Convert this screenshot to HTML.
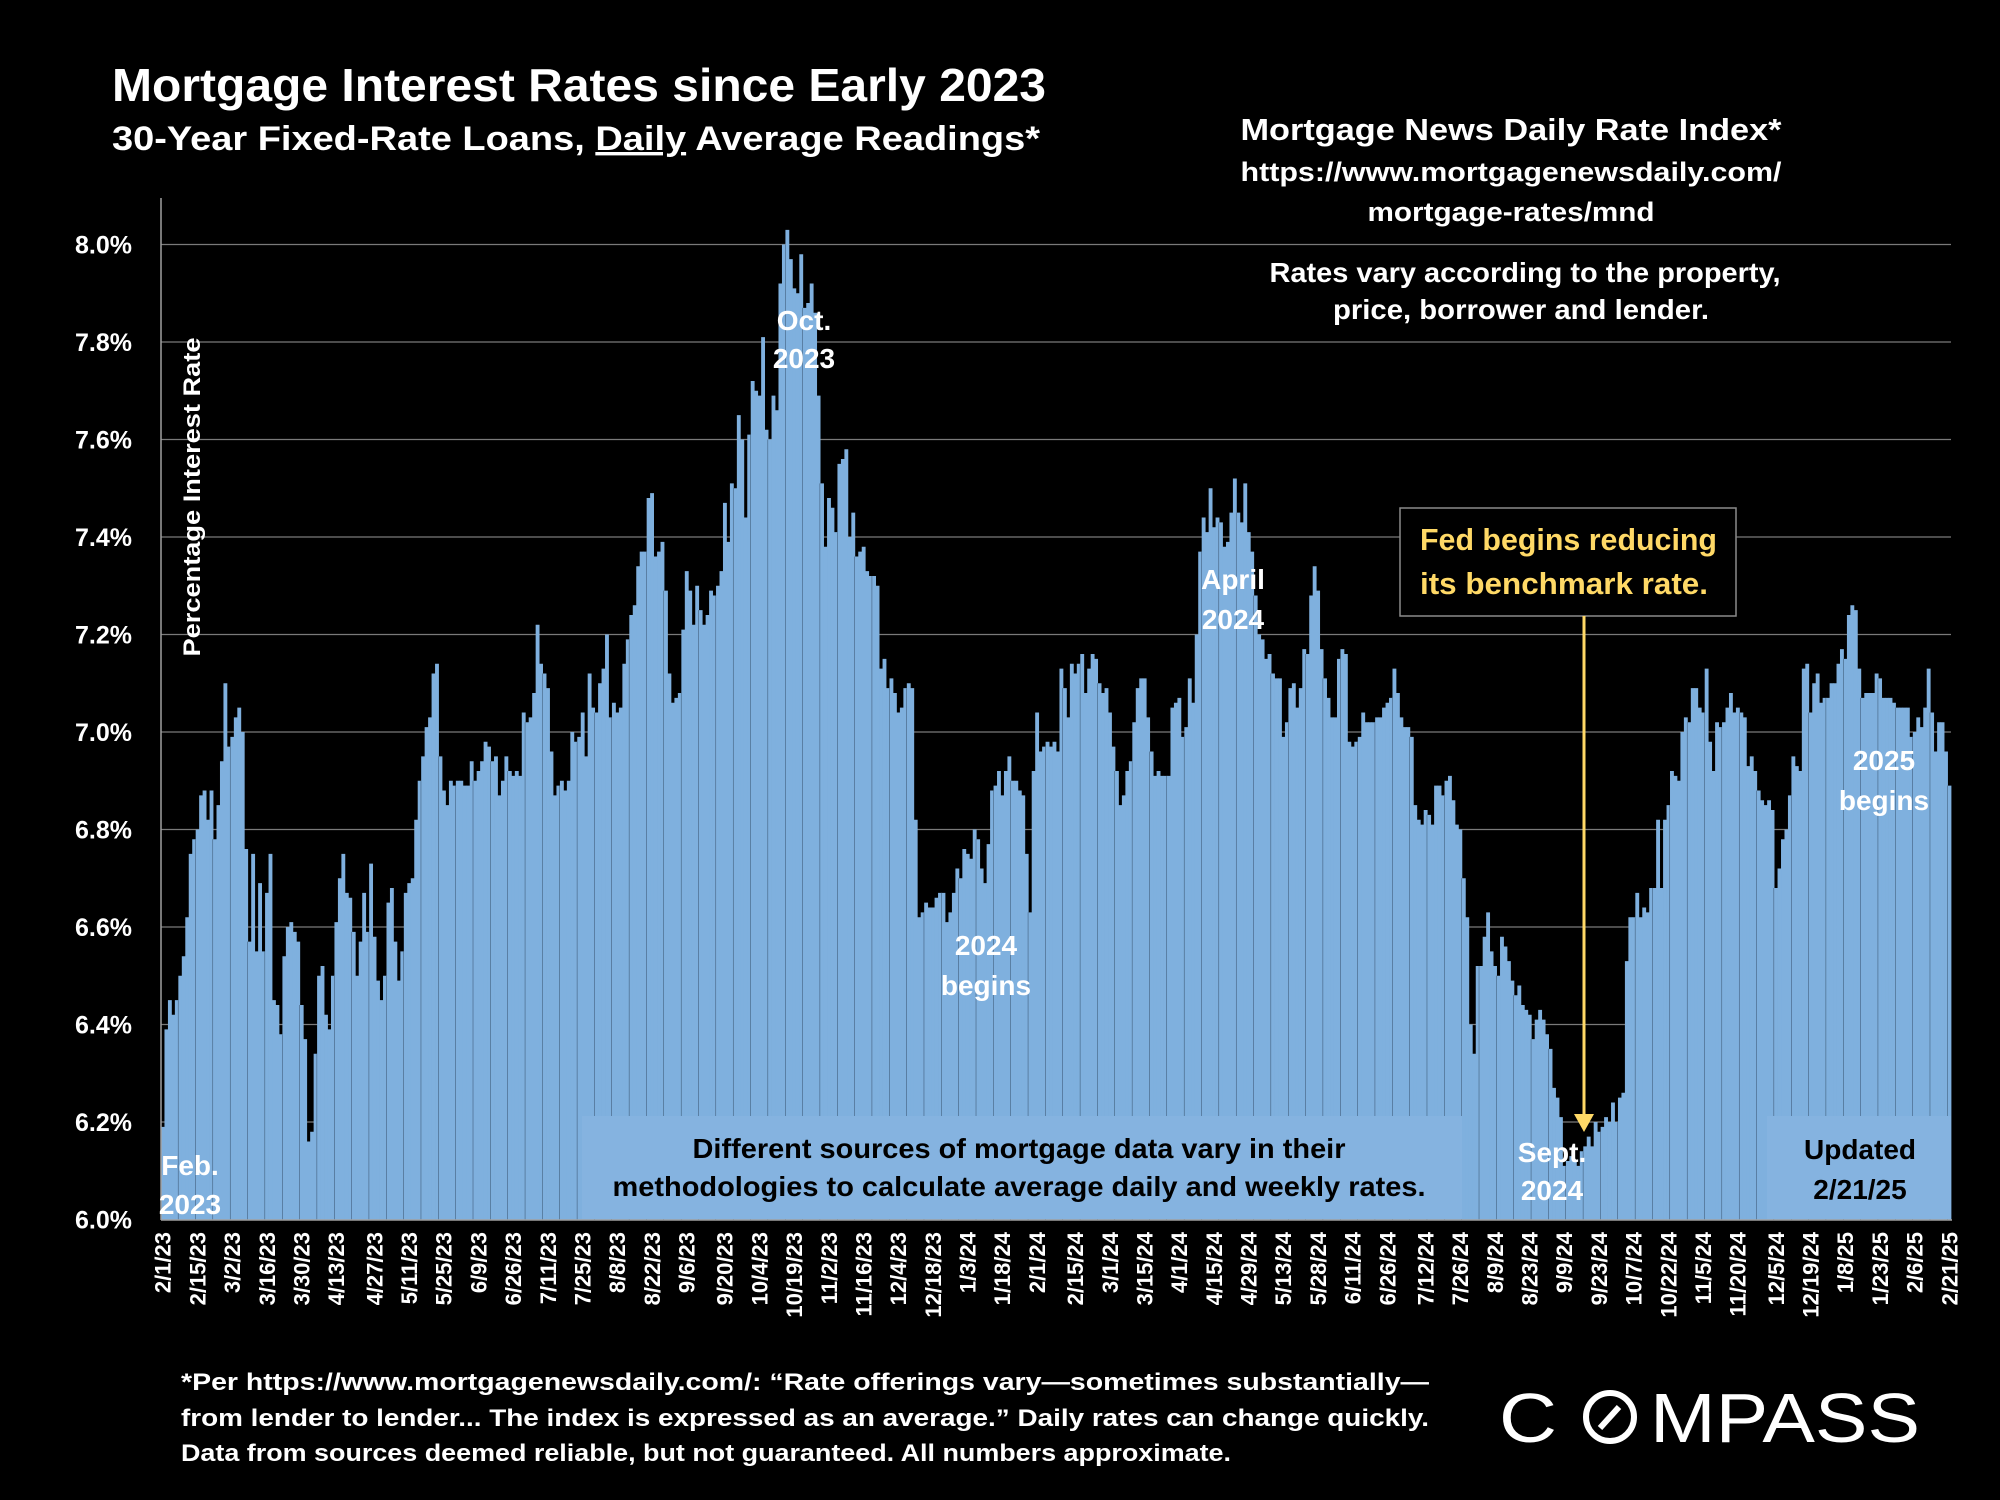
<!DOCTYPE html>
<html><head><meta charset="utf-8"><style>
html,body{margin:0;padding:0;background:#000;}
svg{display:block;}
text{font-family:"Liberation Sans",sans-serif;font-weight:bold;}
</style></head><body>
<svg id="chart" width="2000" height="1500" viewBox="0 0 2000 1500" xmlns="http://www.w3.org/2000/svg">
<rect x="0" y="0" width="2000" height="1500" fill="#000"/>
<g id="grid"></g>
<g id="bars"></g>
<g id="yticks"></g>
<g id="xticks"></g>
<line x1="161" y1="198" x2="161" y2="1220" stroke="#a0a0a0" stroke-width="1.5"/>
<line x1="161" y1="1220" x2="1952" y2="1220" stroke="#a0a0a0" stroke-width="1.5"/>

<text x="112" y="101" font-size="46" fill="#fff" textLength="934" lengthAdjust="spacingAndGlyphs">Mortgage Interest Rates since Early 2023</text>
<text x="112" y="150" font-size="34" fill="#fff" textLength="928" lengthAdjust="spacingAndGlyphs">30-Year Fixed-Rate Loans, <tspan text-decoration="underline">Daily</tspan> Average Readings*</text>

<g fill="#fff" text-anchor="middle">
<text x="1511" y="140" font-size="31" textLength="541" lengthAdjust="spacingAndGlyphs">Mortgage News Daily Rate Index*</text>
<text x="1511" y="181" font-size="27" textLength="541" lengthAdjust="spacingAndGlyphs">https://www.mortgagenewsdaily.com/</text>
<text x="1511" y="221" font-size="27" textLength="287" lengthAdjust="spacingAndGlyphs">mortgage-rates/mnd</text>
<text x="1525" y="282" font-size="28" textLength="511" lengthAdjust="spacingAndGlyphs">Rates vary according to the property,</text>
<text x="1521" y="319" font-size="28" textLength="376" lengthAdjust="spacingAndGlyphs">price, borrower and lender.</text>
</g>

<text transform="translate(200,497) rotate(-90)" text-anchor="middle" font-size="24" fill="#fff" textLength="319" lengthAdjust="spacingAndGlyphs">Percentage Interest  Rate</text>

<g fill="#fff" text-anchor="middle" font-size="28">
<text x="804" y="330">Oct.</text>
<text x="804" y="368">2023</text>
<text x="1233" y="589">April</text>
<text x="1233" y="629">2024</text>
<text x="986" y="955">2024</text>
<text x="986" y="995">begins</text>
<text x="1884" y="770">2025</text>
<text x="1884" y="810">begins</text>
<text x="190" y="1175">Feb.</text>
<text x="190" y="1214">2023</text>
</g>

<g>
<rect x="582" y="1116" width="880" height="103" fill="#85b3e0"/>
<text x="1019" y="1158" text-anchor="middle" font-size="28" fill="#000" textLength="653" lengthAdjust="spacingAndGlyphs">Different sources of mortgage data vary in their</text>
<text x="1019" y="1196" text-anchor="middle" font-size="28" fill="#000" textLength="813" lengthAdjust="spacingAndGlyphs">methodologies to calculate average daily and weekly rates.</text>
</g>

<text x="1552" y="1162" text-anchor="middle" font-size="28" fill="#fff">Sept.</text>
<text x="1552" y="1200" text-anchor="middle" font-size="28" fill="#fff">2024</text>

<g>
<rect x="1767" y="1116" width="184" height="103" fill="#85b3e0"/>
<text x="1860" y="1159" text-anchor="middle" font-size="28" fill="#000">Updated</text>
<text x="1860" y="1199" text-anchor="middle" font-size="28" fill="#000">2/21/25</text>
</g>

<g>
<rect x="1400" y="508" width="336" height="108" fill="#000" stroke="#8a8a8a" stroke-width="1.5"/>
<text x="1420" y="550" font-size="31" fill="#ffd966" textLength="297" lengthAdjust="spacingAndGlyphs">Fed begins reducing</text>
<text x="1420" y="594" font-size="31" fill="#ffd966" textLength="288" lengthAdjust="spacingAndGlyphs">its benchmark rate.</text>
<line x1="1584" y1="616" x2="1584" y2="1118" stroke="#ffd966" stroke-width="3"/>
<polygon points="1574,1114 1594,1114 1584,1132" fill="#ffd966"/>
</g>

<g fill="#fff" font-size="24">
<text x="181" y="1390" textLength="1248" lengthAdjust="spacingAndGlyphs">*Per https://www.mortgagenewsdaily.com/: “Rate offerings vary—sometimes substantially—</text>
<text x="181" y="1426" textLength="1248" lengthAdjust="spacingAndGlyphs">from lender to lender... The index is expressed as an average.” Daily rates can change quickly.</text>
<text x="181" y="1461" textLength="1050" lengthAdjust="spacingAndGlyphs">Data from sources deemed reliable, but not guaranteed. All numbers approximate.</text>
</g>

<g>
<text x="1499" y="1442" font-size="70" fill="#fff" style="font-weight:normal" textLength="58" lengthAdjust="spacingAndGlyphs">C</text>
<circle cx="1610" cy="1417" r="24" fill="none" stroke="#fff" stroke-width="6"/>
<line x1="1600" y1="1428" x2="1619" y2="1407" stroke="#fff" stroke-width="6"/>
<text x="1650" y="1442" font-size="70" fill="#fff" style="font-weight:normal" textLength="270" lengthAdjust="spacingAndGlyphs">MPASS</text>
</g>

<script>
const yTickValues = [6.0,6.2,6.4,6.6,6.8,7.0,7.2,7.4,7.6,7.8,8.0];
const yTickLabels = ["6.0%","6.2%","6.4%","6.6%","6.8%","7.0%","7.2%","7.4%","7.6%","7.8%","8.0%"];
const xTickLabels = ["2/1/23","2/15/23","3/2/23","3/16/23","3/30/23","4/13/23","4/27/23","5/11/23","5/25/23","6/9/23","6/26/23","7/11/23","7/25/23","8/8/23","8/22/23","9/6/23","9/20/23","10/4/23","10/19/23","11/2/23","11/16/23","12/4/23","12/18/23","1/3/24","1/18/24","2/1/24","2/15/24","3/1/24","3/15/24","4/1/24","4/15/24","4/29/24","5/13/24","5/28/24","6/11/24","6/26/24","7/12/24","7/26/24","8/9/24","8/23/24","9/9/24","9/23/24","10/7/24","10/22/24","11/5/24","11/20/24","12/5/24","12/19/24","1/8/25","1/23/25","2/6/25","2/21/25"];
const rates2023a = [6.19,6.39,6.45,6.42,6.45,6.50,6.54,6.62,6.75,6.78,6.80,6.87,6.88,6.82,6.88,6.78,6.85,6.94,7.10,6.97,6.99,7.03,7.05,7.00,6.76,6.57,6.75,6.55,6.69,6.55,6.67,6.75,6.45,6.44,6.38,6.54,6.60,6.61,6.59,6.57,6.44,6.37,6.16,6.18,6.34,6.50,6.52,6.42,6.39,6.50,6.61,6.70,6.75,6.67,6.66,6.59,6.50,6.57,6.67,6.59,6.73,6.58,6.49,6.45,6.50,6.65,6.68,6.57,6.49,6.55,6.67,6.69,6.70,6.82,6.90,6.95,7.01,7.03,7.12,7.14,6.95,6.88,6.85,6.90,6.89,6.90,6.90];
const rates2023b = [6.89,6.89,6.94,6.90,6.92,6.94,6.98,6.97,6.94,6.95,6.87,6.90,6.95,6.92,6.91,6.92,6.91,7.04,7.02,7.03,7.08,7.22,7.14,7.12,7.09,6.96,6.87,6.89,6.90,6.88,6.90,7.00,6.98,6.99,7.04,6.95,7.12,7.05,7.04,7.10,7.13,7.20,7.03,7.06,7.04,7.05,7.14,7.19,7.24,7.26,7.34,7.37,7.37,7.48,7.49,7.36,7.37,7.39,7.29,7.12,7.06,7.07,7.08,7.21,7.33,7.29,7.22,7.30,7.25,7.22,7.24,7.29,7.28,7.30,7.33,7.47,7.39,7.51,7.50,7.65,7.60,7.44,7.61,7.72,7.70,7.69,7.81];
const rates2023c = [7.62,7.60,7.69,7.66,7.92,8.00,8.03,7.97,7.91,7.90,7.98,7.87,7.88,7.92,7.86,7.69,7.51,7.38,7.48,7.46,7.41,7.55,7.56,7.58,7.40,7.45,7.36,7.37,7.38,7.33,7.32,7.32,7.30,7.13,7.15,7.09,7.11,7.08,7.04,7.05,7.09,7.10,7.09,6.82,6.62,6.63,6.65,6.64,6.64,6.66,6.67,6.67,6.61,6.63,6.67,6.72,6.70,6.76,6.75,6.74,6.80,6.78,6.72,6.69,6.77,6.88,6.89,6.92,6.87,6.92,6.95,6.90,6.90,6.88,6.87,6.75,6.63,6.92,7.04,6.96,6.97,6.98,6.97,6.98];
const rates2024a = [6.96,7.13,7.09,7.03,7.14,7.12,7.14,7.16,7.08,7.13,7.16,7.15,7.10,7.08,7.09,7.04,6.97,6.92,6.85,6.87,6.92,6.94,7.02,7.09,7.11,7.11,7.03,6.96,6.91,6.92,6.91,6.91,6.91,7.05,7.06,7.07,6.99,7.01,7.11,7.06,7.20,7.37,7.44,7.41,7.50,7.42,7.44,7.43,7.38,7.39,7.45,7.52,7.45,7.43,7.51,7.41,7.37,7.28,7.20,7.19,7.15,7.16,7.12,7.11,7.11,6.99,7.02,7.09,7.10,7.05,7.09,7.17,7.16,7.28,7.34,7.29,7.17,7.11,7.07,7.03,7.03,7.15,7.17,7.16,6.98,6.97,6.98];
const rates2024b = [6.99,7.04,7.02,7.02,7.02,7.03,7.03,7.05,7.06,7.07,7.13,7.08,7.03,7.01,7.01,6.99,6.85,6.82,6.81,6.84,6.83,6.81,6.89,6.89,6.87,6.90,6.91,6.86,6.81,6.80,6.70,6.62,6.40,6.34,6.52,6.52,6.58,6.63,6.55,6.52,6.50,6.58,6.56,6.53,6.49,6.46,6.48,6.44,6.43,6.42,6.37,6.41,6.43,6.41,6.38,6.35,6.27,6.25,6.21,6.11,6.12,6.13,6.12,6.11,6.14,6.15,6.17,6.15,6.20,6.18,6.19,6.21,6.20,6.24,6.20,6.25,6.26,6.53,6.62,6.62,6.67,6.62,6.64,6.63,6.68,6.68,6.82];
const rates2025 = [6.68,6.82,6.85,6.92,6.91,6.90,7.00,7.03,7.02,7.09,7.09,7.05,7.04,7.13,6.98,6.92,7.02,7.01,7.02,7.05,7.08,7.04,7.05,7.04,7.03,6.93,6.95,6.92,6.88,6.86,6.85,6.86,6.84,6.68,6.72,6.78,6.80,6.87,6.95,6.93,6.92,7.13,7.14,7.04,7.10,7.12,7.06,7.07,7.07,7.10,7.10,7.14,7.17,7.15,7.24,7.26,7.25,7.13,7.07,7.08,7.08,7.08,7.12,7.11,7.07,7.07,7.07,7.06,7.05,7.05,7.05,7.05,6.99,7.00,7.03,7.01,7.05,7.13,7.04,6.96,7.02,7.02,6.96,6.89];

const rates = [].concat(rates2023a, rates2023b, rates2023c, rates2024a, rates2024b, rates2025);
const NS = "http://www.w3.org/2000/svg";
const X0 = 161, X1 = 1951, YMIN = 6.0, YMAX = 8.0, PY0 = 1219.5, PY1 = 244.5;
const n = rates.length;
const step = (X1 - X0) / n;
function xScale(i){ return X0 + i * step; }
function yScale(v){ return PY0 - (v - YMIN) / (YMAX - YMIN) * (PY0 - PY1); }

const grid = document.getElementById('grid');
yTickValues.forEach(function(v, k){
  if (k === 0) return;
  const l = document.createElementNS(NS, 'line');
  
  
  l.setAttribute('x1', X0); l.setAttribute('x2', X1);
  l.setAttribute('y1', yScale(v)); l.setAttribute('y2', yScale(v));
  l.setAttribute('stroke', '#7a7a7a'); l.setAttribute('stroke-width', '1.2');
  grid.appendChild(l);
});

const yt = document.getElementById('yticks');
yTickValues.forEach(function(v, k){
  const t = document.createElementNS(NS, 'text');
  
  
  t.setAttribute('x', 132); t.setAttribute('y', yScale(v) + 9);
  t.setAttribute('text-anchor', 'end'); t.setAttribute('font-size', '25'); t.setAttribute('fill', '#fff');
  t.textContent = yTickLabels[k];
  yt.appendChild(t);
});

const bars = document.getElementById('bars');
rates.forEach(function(v, i){
  const r = document.createElementNS(NS, 'rect');
  
  
  r.setAttribute('x', xScale(i));
  r.setAttribute('width', step + 0.4);
  r.setAttribute('y', yScale(v));
  r.setAttribute('height', PY0 - yScale(v));
  r.setAttribute('fill', '#7fb0de');
  bars.appendChild(r);
  if (i % 5 === 4) {
    const s = document.createElementNS(NS, 'line');
    
    
    s.setAttribute('x1', xScale(i + 1)); s.setAttribute('x2', xScale(i + 1));
    s.setAttribute('y1', Math.max(yScale(v), yScale(rates[Math.min(i + 1, n - 1)])));
    s.setAttribute('y2', PY0);
    s.setAttribute('stroke', '#23374d'); s.setAttribute('stroke-width', '0.8');
    bars.appendChild(s);
  }
});

const xt = document.getElementById('xticks');
xTickLabels.forEach(function(lab, k){
  const idx = Math.round(k * (n - 1) / (xTickLabels.length - 1));
  const cx = xScale(idx) + step / 2;
  const t = document.createElementNS(NS, 'text');
  
  
  t.setAttribute('transform', 'translate(' + (cx + 8) + ',1232) rotate(-90)');
  t.setAttribute('text-anchor', 'end'); t.setAttribute('font-size', '22'); t.setAttribute('fill', '#fff');
  t.textContent = lab;
  xt.appendChild(t);
});
</script>
</svg>
</body></html>
